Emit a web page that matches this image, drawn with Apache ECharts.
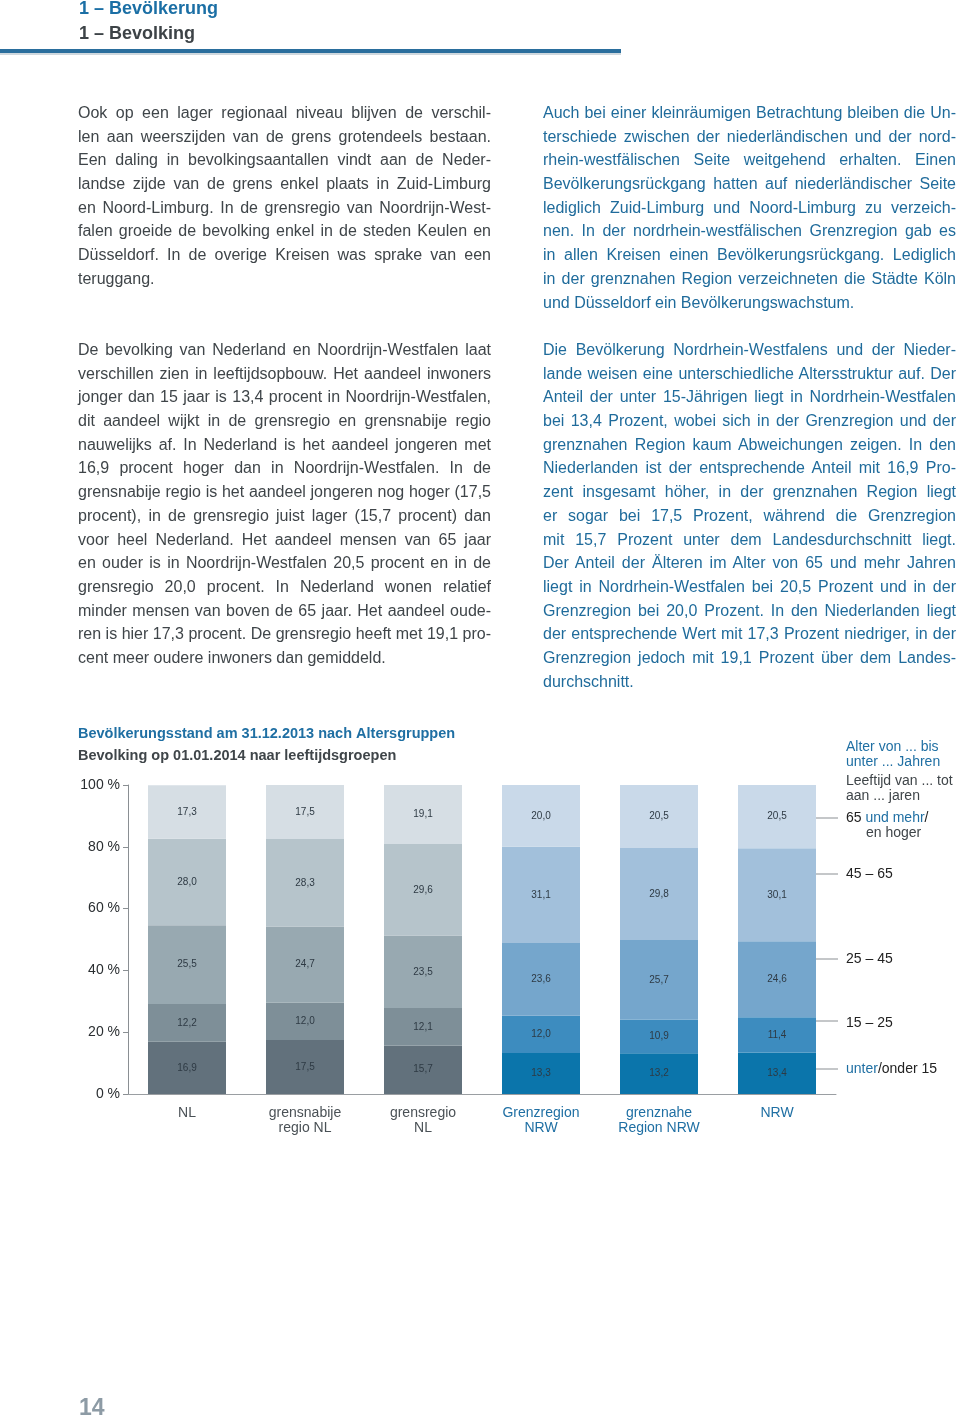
<!DOCTYPE html>
<html>
<head>
<meta charset="utf-8">
<script src="https://cdn.jsdelivr.net/npm/echarts@6/dist/echarts.min.js"></script>
<style>
  html, body { margin:0; padding:0; background:#fff; }
  body { width:960px; height:1416px; position:relative; overflow:hidden; font-family:"Liberation Sans", Arial, sans-serif; }
  #chart { position:absolute; left:0; top:0; width:960px; height:1416px; }
  .abs { position:absolute; pointer-events:none; }
  .para { width:413px; font-size:16px; }
  .para div { height:23.7px; line-height:23.7px; text-align:justify; text-align-last:justify; white-space:nowrap; }
  .para div.last { text-align-last:left; }
  .nl { color:#3f4549; }
  .de { color:#1f6b9b; }
  .h1 { font-weight:bold; font-size:18px; line-height:22px; }
</style>
</head>
<body>
<div id="chart"></div>

<div class="abs h1" style="left:79px; top:-3px; color:#1b6fa5;">1 – Bevölkerung</div>
<div class="abs h1" style="left:79px; top:22px; color:#3d4347;">1 – Bevolking</div>
<div class="abs" style="left:0; top:49px; width:621px; height:4px; background:#2a6e9d;"></div>
<div class="abs" style="left:0; top:53px; width:621px; height:2px; background:#cfd8de;"></div>

<div class="abs para nl" style="left:78px; top:101px;">
<div>Ook op een lager regionaal niveau blijven de verschil-</div>
<div>len aan weerszijden van de grens grotendeels bestaan.</div>
<div>Een daling in bevolkingsaantallen vindt aan de Neder-</div>
<div>landse zijde van de grens enkel plaats in Zuid-Limburg</div>
<div>en Noord-Limburg. In de grensregio van Noordrijn-West-</div>
<div>falen groeide de bevolking enkel in de steden Keulen en</div>
<div>Düsseldorf. In de overige Kreisen was sprake van een</div>
<div class="last">teruggang.</div>
</div>

<div class="abs para nl" style="left:78px; top:338px;">
<div>De bevolking van Nederland en Noordrijn-Westfalen laat</div>
<div>verschillen zien in leeftijdsopbouw. Het aandeel inwoners</div>
<div>jonger dan 15 jaar is 13,4 procent in Noordrijn-Westfalen,</div>
<div>dit aandeel wijkt in de grensregio en grensnabije regio</div>
<div>nauwelijks af. In Nederland is het aandeel jongeren met</div>
<div>16,9 procent hoger dan in Noordrijn-Westfalen. In de</div>
<div>grensnabije regio is het aandeel jongeren nog hoger (17,5</div>
<div>procent), in de grensregio juist lager (15,7 procent) dan</div>
<div>voor heel Nederland. Het aandeel mensen van 65 jaar</div>
<div>en ouder is in Noordrijn-Westfalen 20,5 procent en in de</div>
<div>grensregio 20,0 procent. In Nederland wonen relatief</div>
<div>minder mensen van boven de 65 jaar. Het aandeel oude-</div>
<div>ren is hier 17,3 procent. De grensregio heeft met 19,1 pro-</div>
<div class="last">cent meer oudere inwoners dan gemiddeld.</div>
</div>

<div class="abs para de" style="left:543px; top:101px;">
<div>Auch bei einer kleinräumigen Betrachtung bleiben die Un-</div>
<div>terschiede zwischen der niederländischen und der nord-</div>
<div>rhein-westfälischen Seite weitgehend erhalten. Einen</div>
<div>Bevölkerungsrückgang hatten auf niederländischer Seite</div>
<div>lediglich Zuid-Limburg und Noord-Limburg zu verzeich-</div>
<div>nen. In der nordrhein-westfälischen Grenzregion gab es</div>
<div>in allen Kreisen einen Bevölkerungsrückgang. Lediglich</div>
<div>in der grenznahen Region verzeichneten die Städte Köln</div>
<div class="last">und Düsseldorf ein Bevölkerungswachstum.</div>
</div>

<div class="abs para de" style="left:543px; top:338px;">
<div>Die Bevölkerung Nordrhein-Westfalens und der Nieder-</div>
<div>lande weisen eine unterschiedliche Altersstruktur auf. Der</div>
<div>Anteil der unter 15-Jährigen liegt in Nordrhein-Westfalen</div>
<div>bei 13,4 Prozent, wobei sich in der Grenzregion und der</div>
<div>grenznahen Region kaum Abweichungen zeigen. In den</div>
<div>Niederlanden ist der entsprechende Anteil mit 16,9 Pro-</div>
<div>zent insgesamt höher, in der grenznahen Region liegt</div>
<div>er sogar bei 17,5 Prozent, während die Grenzregion</div>
<div>mit 15,7 Prozent unter dem Landesdurchschnitt liegt.</div>
<div>Der Anteil der Älteren im Alter von 65 und mehr Jahren</div>
<div>liegt in Nordrhein-Westfalen bei 20,5 Prozent und in der</div>
<div>Grenzregion bei 20,0 Prozent. In den Niederlanden liegt</div>
<div>der entsprechende Wert mit 17,3 Prozent niedriger, in der</div>
<div>Grenzregion jedoch mit 19,1 Prozent über dem Landes-</div>
<div class="last">durchschnitt.</div>
</div>

<div class="abs" style="left:79px; top:1394px; font-weight:bold; font-size:23px; line-height:26px; color:#8d9ba5;">14</div>

<script>
// ---- data ----
const categories = ['NL', 'grensnabije\nregio NL', 'grensregio\nNL', 'Grenzregion\nNRW', 'grenznahe\nRegion NRW', 'NRW'];
const under15   = [16.9, 17.5, 15.7, 13.3, 13.2, 13.4];
const age15_25  = [12.2, 12.0, 12.1, 12.0, 10.9, 11.4];
const age25_45  = [25.5, 24.7, 23.5, 23.6, 25.7, 24.6];
const age45_65  = [28.0, 28.3, 29.6, 31.1, 29.8, 30.1];
const age65plus = [17.3, 17.5, 19.1, 20.0, 20.5, 20.5];
const yTicks = [0, 20, 40, 60, 80, 100];

// ---- styles ----
const grayShades = ['#62717c', '#7e8f98', '#98a9b1', '#b6c4cb', '#d6dee4'];
const blueShades = ['#0b75ab', '#3d8cbf', '#75a6cc', '#a2c0db', '#c9d9e9'];
const NL_COUNT = 3;
const blueText = '#1f6fa3';
const grayText = '#3f4549';

const seriesData = [under15, age15_25, age25_45, age45_65, age65plus];
const series = seriesData.map((arr, k) => ({
  type: 'bar',
  stack: 'total',
  barWidth: 78,
  data: arr,
  itemStyle: {
    color: (p) => p.dataIndex < NL_COUNT ? grayShades[k] : blueShades[k]
  },
  label: {
    show: true,
    position: 'inside',
    fontSize: 10,
    fontFamily: 'Liberation Sans, Arial, sans-serif',
    color: '#2e3a44',
    formatter: (p) => p.value.toFixed(1).replace('.', ',')
  },
  silent: true
}));

const legendLines = [818, 874, 959, 1021, 1069];
const font = 'Liberation Sans, Arial, sans-serif';

const graphic = [
  { type: 'text', left: 78, top: 726, style: { text: 'Bevölkerungsstand am 31.12.2013 nach Altersgruppen', fill: blueText, font: 'bold 14.5px ' + font } },
  { type: 'text', left: 78, top: 748, style: { text: 'Bevolking op 01.01.2014 naar leeftijdsgroepen', fill: grayText, font: 'bold 14.5px ' + font } },
  { type: 'text', left: 846, top: 740, style: { text: 'Alter von ... bis\nunter ... Jahren', fill: blueText, font: '14px ' + font, lineHeight: 14.5 } },
  { type: 'text', left: 846, top: 774, style: { text: 'Leeftijd van ... tot\naan ... jaren', fill: grayText, font: '14px ' + font, lineHeight: 14.5 } },
  { type: 'text', left: 846, top: 811, style: { text: '{k|65 }{b|und mehr}{k|/}', rich: { k: { fill: '#222', font: '14px ' + font }, b: { fill: blueText, font: '14px ' + font } } } },
  { type: 'text', left: 866, top: 826, style: { text: 'en hoger', fill: grayText, font: '14px ' + font } },
  { type: 'text', left: 846, top: 867, style: { text: '45 – 65', fill: '#222', font: '14px ' + font } },
  { type: 'text', left: 846, top: 952, style: { text: '25 – 45', fill: '#222', font: '14px ' + font } },
  { type: 'text', left: 846, top: 1016, style: { text: '15 – 25', fill: '#222', font: '14px ' + font } },
  { type: 'text', left: 846, top: 1062, style: { text: '{b|unter}{k|/onder 15}', rich: { k: { fill: '#222', font: '14px ' + font }, b: { fill: blueText, font: '14px ' + font } } } }
].concat(legendLines.map(y => ({
  type: 'line', shape: { x1: 815, y1: y, x2: 838, y2: y }, style: { stroke: '#8a8f93', lineWidth: 1 }
})));

const chart = echarts.init(document.getElementById('chart'), null, { renderer: 'canvas' });
chart.setOption({
  animation: false,
  grid: { left: 128, right: 124, top: 785, bottom: 322, containLabel: false },
  xAxis: {
    type: 'category',
    data: categories,
    axisLine: { show: true, lineStyle: { color: '#9a9ea2', width: 1 } },
    axisTick: { show: false },
    axisLabel: {
      margin: 12,
      fontSize: 14,
      lineHeight: 15,
      fontFamily: font,
      color: (v, i) => i < NL_COUNT ? '#4a5156' : blueText
    }
  },
  yAxis: {
    type: 'value',
    min: yTicks[0],
    max: yTicks[yTicks.length - 1],
    interval: 20,
    axisLine: { show: true, lineStyle: { color: '#8a8f93', width: 1 } },
    axisTick: { show: true, length: 5, lineStyle: { color: '#8a8f93' } },
    splitLine: { show: false },
    axisLabel: { margin: 8, fontSize: 14, fontFamily: font, color: '#2a2e31', formatter: '{value} %' }
  },
  series: series,
  graphic: graphic
});
</script>
</body>
</html>
